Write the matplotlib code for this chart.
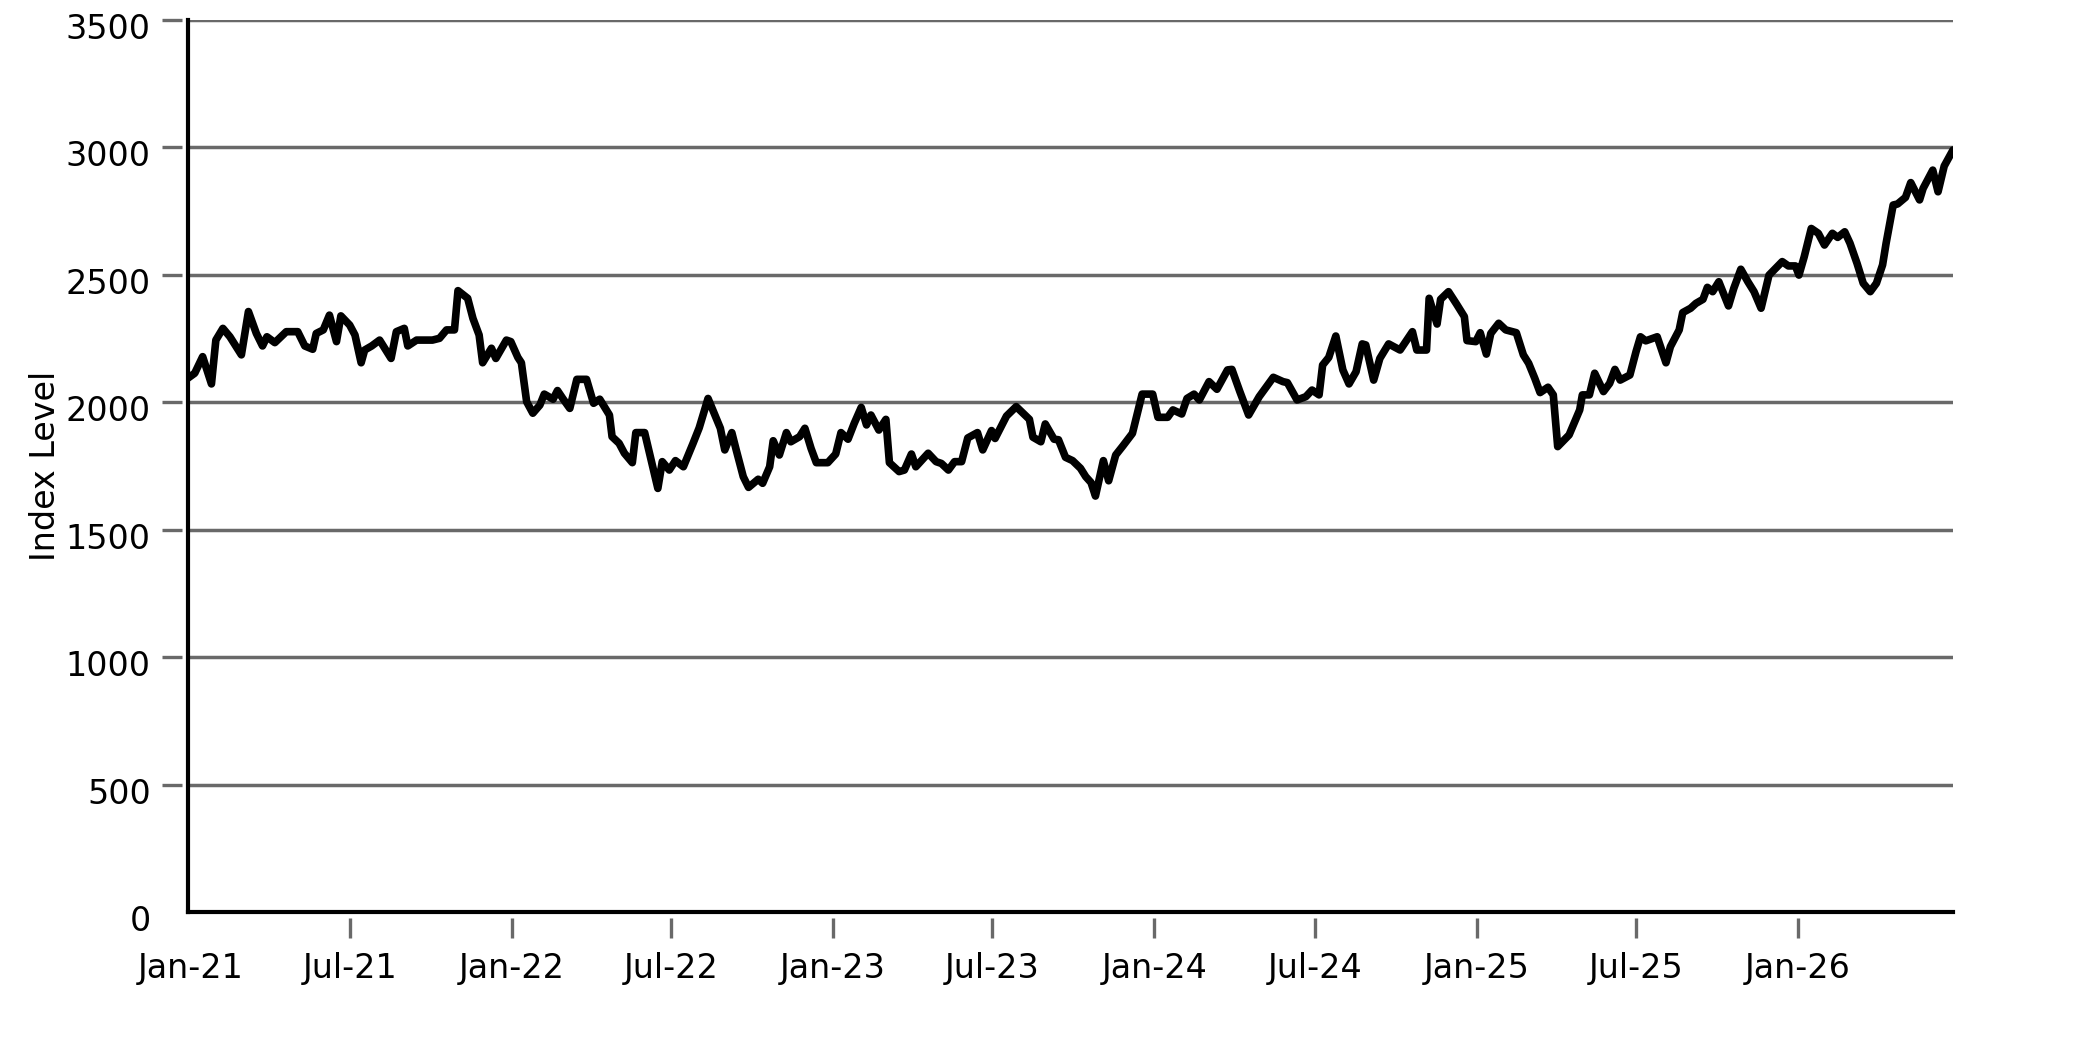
import matplotlib
matplotlib.use("Agg")
import matplotlib.pyplot as plt
import matplotlib.dates as mdates
import matplotlib.transforms as mtransforms
import pandas as pd

# index level (roughly weekly)
DATES = [
    "2020-12-29", "2021-01-06", "2021-01-15", "2021-01-25", "2021-01-30", "2021-02-07",
    "2021-02-15", "2021-02-28", "2021-03-08", "2021-03-17", "2021-03-24", "2021-03-29",
    "2021-04-07", "2021-04-20", "2021-05-03", "2021-05-11", "2021-05-20", "2021-05-24",
    "2021-06-01", "2021-06-08", "2021-06-16", "2021-06-21", "2021-07-01", "2021-07-07",
    "2021-07-14", "2021-07-18", "2021-07-26", "2021-08-04", "2021-08-17", "2021-08-23",
    "2021-09-01", "2021-09-05", "2021-09-15", "2021-10-03", "2021-10-11", "2021-10-19",
    "2021-10-28", "2021-11-01", "2021-11-12", "2021-11-18", "2021-11-25", "2021-11-29",
    "2021-12-09", "2021-12-14", "2021-12-26", "2021-12-31",
    "2022-01-08", "2022-01-12", "2022-01-18", "2022-01-25", "2022-02-02", "2022-02-07",
    "2022-02-17", "2022-02-22", "2022-02-28", "2022-03-08", "2022-03-16", "2022-03-27",
    "2022-04-04", "2022-04-11", "2022-04-22", "2022-04-25", "2022-05-03", "2022-05-09",
    "2022-05-18", "2022-05-22", "2022-06-01", "2022-06-16", "2022-06-21", "2022-06-29",
    "2022-07-06", "2022-07-15", "2022-07-26", "2022-08-02", "2022-08-12", "2022-08-19",
    "2022-08-26", "2022-08-31", "2022-09-08", "2022-09-13", "2022-09-21", "2022-09-27",
    "2022-10-08", "2022-10-13", "2022-10-21", "2022-10-25", "2022-11-01", "2022-11-09",
    "2022-11-14", "2022-11-24", "2022-11-30", "2022-12-07", "2022-12-13", "2022-12-26",
    "2023-01-04", "2023-01-10", "2023-01-18", "2023-01-25", "2023-02-02", "2023-02-08",
    "2023-02-13", "2023-02-22", "2023-03-02", "2023-03-06", "2023-03-17", "2023-03-23",
    "2023-03-31", "2023-04-05", "2023-04-19", "2023-04-28", "2023-05-04", "2023-05-12",
    "2023-05-19", "2023-05-27", "2023-06-03", "2023-06-14", "2023-06-20", "2023-06-30",
    "2023-07-04", "2023-07-17", "2023-07-28", "2023-08-12", "2023-08-16", "2023-08-25",
    "2023-08-30", "2023-09-09", "2023-09-14", "2023-09-22", "2023-09-30", "2023-10-09",
    "2023-10-15", "2023-10-21", "2023-10-26", "2023-11-04", "2023-11-10", "2023-11-18",
    "2023-11-26", "2023-12-07", "2023-12-18", "2023-12-30",
    "2024-01-05", "2024-01-16", "2024-01-22", "2024-02-01", "2024-02-07", "2024-02-15",
    "2024-02-21", "2024-03-03", "2024-03-12", "2024-03-24", "2024-03-29", "2024-04-07",
    "2024-04-17", "2024-04-29", "2024-05-15", "2024-05-26", "2024-05-31", "2024-06-11",
    "2024-06-21", "2024-06-28", "2024-07-06", "2024-07-10", "2024-07-17", "2024-07-25",
    "2024-08-02", "2024-08-09", "2024-08-17", "2024-08-24", "2024-08-28", "2024-09-06",
    "2024-09-13", "2024-09-23", "2024-10-06", "2024-10-20", "2024-10-25", "2024-11-05",
    "2024-11-08", "2024-11-17", "2024-11-21", "2024-11-30", "2024-12-09", "2024-12-18",
    "2024-12-21", "2024-12-31",
    "2025-01-05", "2025-01-12", "2025-01-17", "2025-01-26", "2025-02-03", "2025-02-15",
    "2025-02-23", "2025-03-01", "2025-03-08", "2025-03-14", "2025-03-23", "2025-03-29",
    "2025-04-03", "2025-04-16", "2025-04-28", "2025-05-01", "2025-05-09", "2025-05-15",
    "2025-05-25", "2025-06-01", "2025-06-07", "2025-06-13", "2025-06-24", "2025-07-01",
    "2025-07-06", "2025-07-12", "2025-07-25", "2025-08-04", "2025-08-09", "2025-08-19",
    "2025-08-23", "2025-09-01", "2025-09-07", "2025-09-15", "2025-09-20", "2025-09-26",
    "2025-10-03", "2025-10-14", "2025-10-20", "2025-10-28", "2025-11-05", "2025-11-12",
    "2025-11-20", "2025-11-29", "2025-12-14", "2025-12-21", "2025-12-29",
    "2026-01-02", "2026-01-08", "2026-01-16", "2026-01-24", "2026-01-31", "2026-02-09",
    "2026-02-15", "2026-02-23", "2026-03-01", "2026-03-09", "2026-03-16", "2026-03-24",
    "2026-03-31", "2026-04-07", "2026-04-11", "2026-04-19", "2026-04-24", "2026-05-03",
    "2026-05-09", "2026-05-19", "2026-05-23", "2026-06-03", "2026-06-09", "2026-06-16",
    "2026-06-26",
]

INDEX_LEVEL = [
    2094, 2114, 2179, 2072, 2244, 2290,
    2257, 2186, 2356, 2270, 2221, 2257,
    2234, 2277, 2277, 2221, 2208, 2270,
    2284, 2342, 2238, 2339, 2303, 2264,
    2155, 2205, 2221, 2244, 2172, 2277,
    2290, 2221, 2244, 2244, 2251, 2284,
    2284, 2438, 2408, 2329, 2264, 2155,
    2212, 2172, 2244, 2238,
    2176, 2155, 2002, 1957, 1989, 2032,
    2012, 2046, 2015, 1976, 2090, 2090,
    1996, 2012, 1950, 1865, 1839, 1800,
    1763, 1881, 1881, 1662, 1767, 1734,
    1771, 1747, 1839, 1900, 2015, 1957,
    1898, 1813, 1881, 1813, 1708, 1666,
    1698, 1682, 1747, 1849, 1793, 1881,
    1845, 1865, 1898, 1819, 1763, 1763,
    1797, 1881, 1855, 1917, 1980, 1911,
    1950, 1891, 1933, 1763, 1728, 1734,
    1797, 1747, 1800, 1767, 1760, 1734,
    1767, 1767, 1860, 1881, 1813, 1889,
    1858, 1946, 1983, 1933, 1863, 1845,
    1915, 1855, 1853, 1784, 1771, 1741,
    1708, 1685, 1632, 1771, 1692, 1793,
    1828, 1878, 2032, 2032,
    1941, 1941, 1970, 1954, 2015, 2032,
    2009, 2081, 2051, 2127, 2129, 2042,
    1950, 2022, 2098, 2081, 2077, 2009,
    2022, 2048, 2029, 2146, 2176, 2260,
    2127, 2072, 2120, 2229, 2225, 2087,
    2172, 2229, 2205, 2277, 2205, 2205,
    2408, 2307, 2404, 2434, 2386, 2336,
    2242, 2238,
    2273, 2189, 2270, 2310, 2284, 2273,
    2186, 2153, 2094, 2038, 2059, 2029,
    1826, 1872, 1970, 2029, 2029, 2114,
    2042, 2074, 2129, 2087, 2107, 2199,
    2257, 2241, 2257, 2155, 2218, 2284,
    2352, 2369, 2388, 2404, 2451, 2434,
    2473, 2378, 2447, 2522, 2473, 2434,
    2369, 2499, 2552, 2535, 2535,
    2499, 2571, 2682, 2663, 2617, 2663,
    2647, 2669, 2624, 2545, 2467, 2434,
    2467, 2539, 2624, 2774, 2778, 2804,
    2862, 2794, 2839, 2911, 2826, 2927,
    2990,
]

Y_TICKS = [0, 500, 1000, 1500, 2000, 2500, 3000, 3500]
Y_LABEL = "Index Level"

GRID_GREY = "#696969"

dates = pd.to_datetime(DATES)

plt.rcParams["font.family"] = "DejaVu Sans"
plt.rcParams["font.size"] = 24

fig = plt.figure(figsize=(20.83, 10.42), dpi=100)
ax = fig.add_axes([0.0901, 0.1248, 0.8475, 0.8560])

ax.plot(dates, INDEX_LEVEL, color="black", lw=5.5,
        solid_joinstyle="round", solid_capstyle="round", zorder=3)

ax.set_xlim(dates[0], dates[-1])
ax.set_ylim(Y_TICKS[0], Y_TICKS[-1])
ax.set_yticks(Y_TICKS)
ax.xaxis.set_major_locator(mdates.MonthLocator(bymonth=[1, 7]))
ax.xaxis.set_major_formatter(mdates.DateFormatter("%b-%y"))

ax.grid(axis="y", color=GRID_GREY, lw=2.5, zorder=1)
ax.grid(axis="x", visible=False)

# ticks sit a little away from the axis lines
for side in ("top", "right", "left", "bottom"):
    ax.spines[side].set_visible(False)
ax.spines["left"].set_position(("outward", 4))
ax.spines["bottom"].set_position(("outward", 4))
ax.axhline(0, color="black", lw=3, clip_on=False, zorder=4)
ax.axvline(dates[0], color="black", lw=3, clip_on=False, zorder=4)

ax.tick_params(axis="both", direction="out", length=14.5, width=2.4,
               color=GRID_GREY, labelcolor="black")
ax.tick_params(axis="y", pad=8)
ax.tick_params(axis="x", pad=10)
ax.yaxis.get_major_ticks()[0].tick1line.set_visible(False)
ax.xaxis.get_major_ticks()[0].tick1line.set_visible(False)

# y labels sit slightly below their gridline in the reference
shift = mtransforms.ScaledTranslation(0, -6 / 100, fig.dpi_scale_trans)
for lab in ax.get_yticklabels():
    lab.set_transform(lab.get_transform() + shift)

ax.set_ylabel(Y_LABEL, labelpad=3)

fig.savefig("out.png", dpi=100, facecolor="white")
